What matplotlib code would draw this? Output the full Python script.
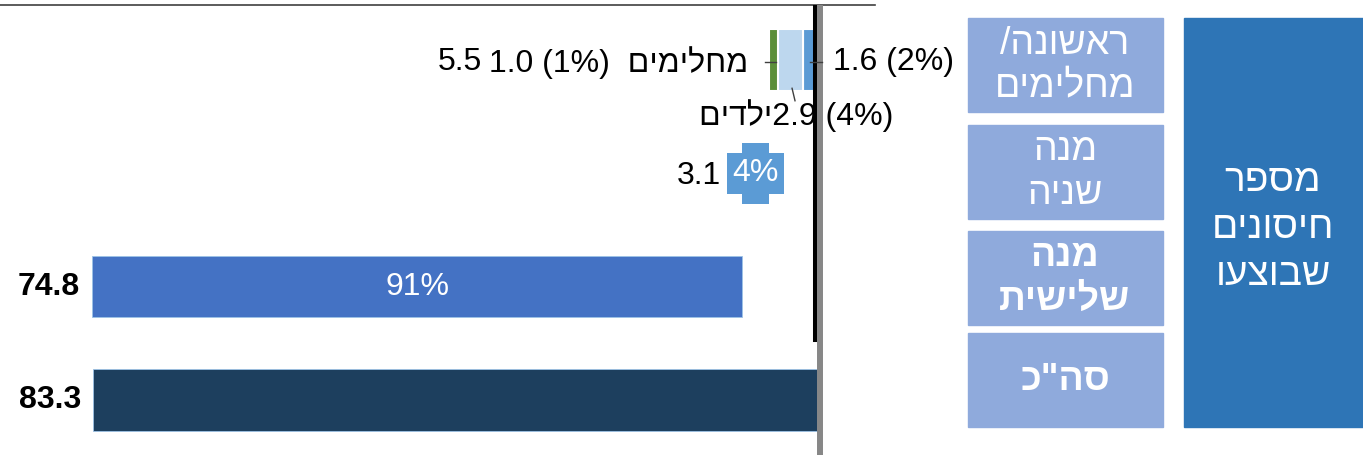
import numpy as np
import matplotlib.pyplot as plt
from matplotlib.patches import Rectangle

plt.rcParams['font.family'] = ['Liberation Sans', 'DejaVu Sans']


def heb(s):
    # matplotlib has no bidi: write each Hebrew line in visual order
    return '\n'.join(line[::-1] for line in s.split('\n'))


# data
first_vals = [1.6, 2.9, 1.0]          # first dose / recovered: adults, kids, recovered
first_pcts = [2, 4, 1]
first_colors = ['#5B9BD5', '#BDD7EE', '#5B8F3A']
kids_name = 'ילדים'
recovered_name = 'מחלימים'
second_val, second_pct = 3.1, 4
third_val, third_pct = 74.8, 91
total_val = 83.3
row_labels = ['ראשונה/\nמחלימים', 'מנה\nשניה', 'מנה\nשלישית', 'סה"כ']
row_bold = [False, False, True, True]
side_title = 'מספר\nחיסונים\nשבוצעו'

first_total = round(sum(first_vals), 1)

fig = plt.figure(figsize=(13.63, 4.68), dpi=100)
ax = fig.add_axes([0, 13 / 468, 875 / 1363, 450 / 468])
ax.set_xlim(817 / 8.69, -(875 - 817) / 8.69)
ax.set_ylim(3.486, -0.485)

# row 0: stacked first dose
left = 0
for v, c in zip(first_vals, first_colors):
    ax.barh(0, v, left=left, height=0.54, color=c, edgecolor='white', linewidth=1.5)
    left += v
# row 1..3
ax.barh(1, second_val, left=first_total, height=0.54, color='#5B9BD5')
ax.barh(2, third_val, left=first_total + second_val, height=0.54,
        color='#4472C4', edgecolor='#9DC3E6', linewidth=0.6)
ax.barh(3, total_val, height=0.54, color='#1D3F5E', edgecolor='#9DC3E6', linewidth=0.6)

# axis lines
ax.axvline(-0.35, color='#878787', lw=4.3, zorder=5)
ax.axvline(0.25, ymin=0.256, ymax=1, color='black', lw=2.9, zorder=4)
for s in ['left', 'right', 'bottom']:
    ax.spines[s].set_visible(False)
ax.spines['top'].set_color('#404040')
ax.spines['top'].set_linewidth(1.2)
ax.set_xticks([])
ax.set_yticks([])

fs = 23
# row 0 labels
ax.text(-1.8, 0.02, f'{first_vals[0]} ({first_pcts[0]}%)', ha='left', va='center', fontsize=fs)
ax.plot([0.8, -0.6], [0.02, 0.02], color='#404040', lw=1, zorder=6)
ax.text(7.9, 0.02, f'{first_vals[2]} ({first_pcts[2]}%)  ' + heb(recovered_name),
        ha='right', va='center', fontsize=fs)
ax.plot([6.0, 4.7], [0.02, 0.02], color='#404040', lw=1)
ax.text(38.5, 0.02, f'{first_total}', ha='right', va='center', fontsize=fs)
ax.text(2.4, 0.49, heb(kids_name) + f'{first_vals[1]} ({first_pcts[1]}%)',
        ha='center', va='center', fontsize=fs)
ax.plot([2.87, 2.53], [0.25, 0.36], color='#404040', lw=1)

# row 1 labels
ax.text(first_total + second_val + 2.5, 1.02, f'{second_val}', ha='right', va='center', fontsize=fs)
ax.text(first_total + second_val / 2, 1.0, f'{second_pct}%', ha='center', va='center',
        fontsize=fs, color='white', zorder=7,
        bbox=dict(boxstyle='square,pad=0.17', fc='#5B9BD5', ec='none'))

# row 2 / 3 labels
ax.text(first_total + second_val + third_val + 1.4, 2, f'{third_val}', ha='right', va='center',
        fontsize=fs, fontweight='bold')
ax.text(first_total + second_val + third_val / 2, 2, f'{third_pct}%', ha='center', va='center',
        fontsize=fs, color='white')
ax.text(total_val + 1.4, 3, f'{total_val}', ha='right', va='center', fontsize=fs, fontweight='bold')

# right panel (pixel coords)
ax2 = fig.add_axes([960 / 1363, 0, 403 / 1363, 1])
ax2.set_xlim(960, 1363)
ax2.set_ylim(468, 0)
ax2.axis('off')
boxes = [(18, 112), (125, 219), (231, 325), (333, 427)]
for (y0, y1), lab, b in zip(boxes, row_labels, row_bold):
    ax2.add_patch(Rectangle((968, y0), 195, y1 - y0, color='#8FAADC'))
    ax2.text(1065, (y0 + y1) / 2, heb(lab), ha='center', va='center', color='white',
             fontsize=27, fontweight='bold' if b else 'normal', linespacing=1.25)
ax2.add_patch(Rectangle((1184, 18), 179, 409, color='#2E75B6'))
ax2.text(1273, 228, heb(side_title), ha='center', va='center', color='white',
         fontsize=28, linespacing=1.4)

fig.savefig('out.png', dpi=100)
